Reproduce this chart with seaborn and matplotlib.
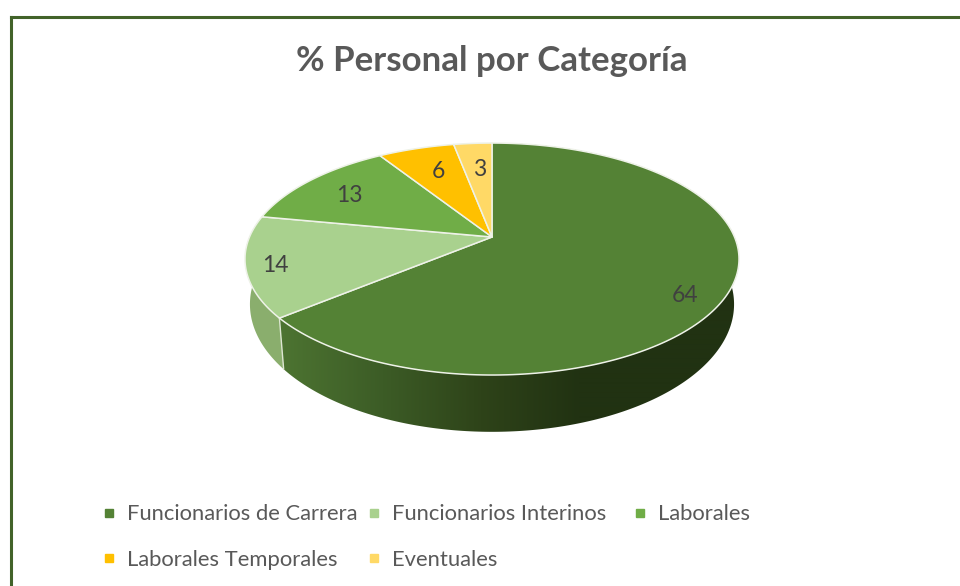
import numpy as np
import pandas as pd
import seaborn as sns
import matplotlib.pyplot as plt
from matplotlib.colors import LinearSegmentedColormap
from matplotlib.patches import Polygon

# data
categorias = ['Funcionarios de Carrera', 'Funcionarios Interinos', 'Laborales',
              'Laborales Temporales', 'Eventuales']
valores = [64, 14, 13, 6, 3]
titulo = '% Personal por Categoría'

sns.set_theme(style='white')
plt.rcParams['font.family'] = ['Lato', 'DejaVu Sans']

df = pd.DataFrame({'categoria': categorias, 'valor': valores})
df['fin'] = df['valor'].cumsum() / df['valor'].sum() * 2 * np.pi
df['inicio'] = df['fin'].shift(1, fill_value=0.0)

colores = sns.color_palette(['#548235', '#A9D18E', '#70AD47', '#FFC000', '#FFD966'])

# perspective of the pie, in pixels
cx, cy = 492, 237
A, B, k = 242.5, 111.8, 0.19
sx, sy, depth = 0.98, 1.1, 43


def rim(theta):
    u, v = np.sin(theta), -np.cos(theta)
    w = 1 - k * v
    return A * u / w, B * v / w


def pared(i):
    # outline of the side wall of wedge i
    t = np.linspace(df['inicio'][i], df['fin'][i], 300)
    x, y = rim(t)
    return np.c_[np.r_[cx + x, (cx + x * sx)[::-1]], np.r_[cy + y, (cy + y * sy + depth)[::-1]]]


fig = plt.figure(figsize=(9.6, 5.86), dpi=100)
ax = fig.add_axes([0, 0, 1, 1])

# frame
ax.plot([10.5, 10.5], [16.5, 590], color='#42632A', lw=2.2, solid_capstyle='projecting')
ax.plot([10.5, 965], [16.5, 16.5], color='#42632A', lw=2.2, solid_capstyle='projecting')

# walls, only the first two wedges reach the front
sombra = LinearSegmentedColormap.from_list('sombra', ['#4C7331', '#3C5C26', '#2E4319', '#213212'])
clip = Polygon(pared(0), transform=ax.transData, fc='none', ec='none')
ax.add_patch(clip)
gradiente = np.clip((np.arange(270, 750) - 284) / 296, 0, 1)[np.newaxis, :]
im = ax.imshow(gradiente, cmap=sombra, vmin=0, vmax=1, extent=(270, 750, 440, 130),
               aspect='auto', zorder=2, interpolation='bilinear')
im.set_clip_path(clip)

ax.fill(*pared(1).T, color='#8AAE6D', lw=0, zorder=1.5)
x0, y0 = rim(df['inicio'][1])
ax.plot([cx + x0, cx + x0 * sx], [cy + y0, cy + y0 * sy + depth], color='#DDE6D2', lw=1, zorder=3)

# top of the pie
for i, fila in df.iterrows():
    t = np.linspace(fila['inicio'], fila['fin'], 200)
    x, y = rim(t)
    ax.fill(np.r_[cx, cx + x], np.r_[cy, cy + y], facecolor=colores[i],
            edgecolor='#EEF2E8', lw=1.1, joinstyle='round', zorder=4)

# data labels
pos_etiquetas = [(685, 295), (275, 265), (349, 195), (438, 172), (480, 170)]
for v, (px, py) in zip(valores, pos_etiquetas):
    ax.text(px, py, str(v), ha='center', va='center', fontsize=16.5, color='#404040', zorder=5)

ax.text(492, 61, titulo, ha='center', va='center', fontsize=25.1, fontweight='bold', color='#595959')

# legend entries
pos_leyenda = [(108.5, 513), (374, 513), (640, 513), (108.5, 558), (374, 558)]
for nombre, color, (px, py) in zip(categorias, colores, pos_leyenda):
    ax.plot(px, py, ls='', marker='s', ms=6.2, color=color)
    ax.text(px + 18.5, py + 1.5, nombre, ha='left', va='center', fontsize=15.8, color='#595959')

ax.set_xlim(0, 960)
ax.set_ylim(586, 0)
ax.axis('off')

fig.savefig('out.png', dpi=100)
